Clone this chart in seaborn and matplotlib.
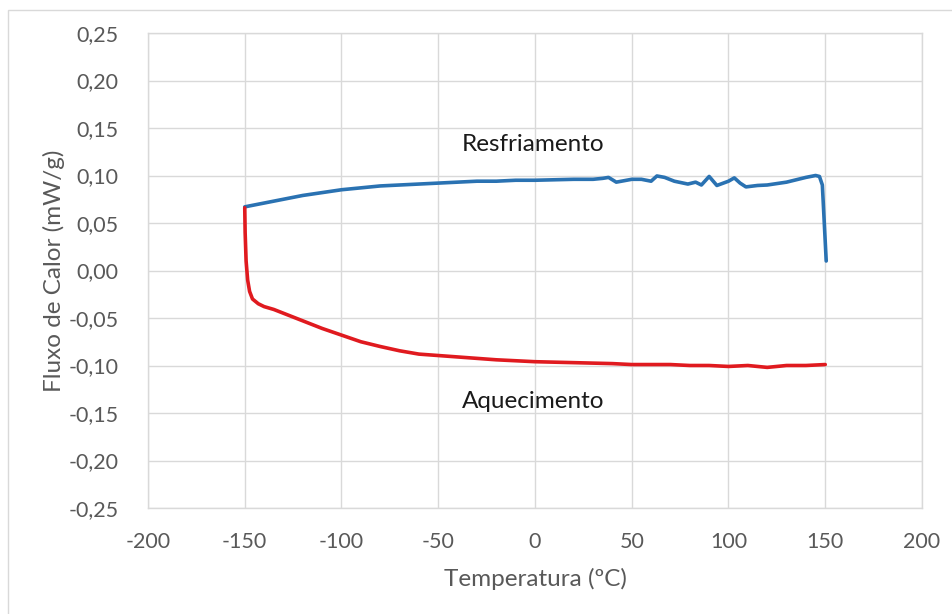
import matplotlib
matplotlib.use("Agg")
import matplotlib.pyplot as plt
import seaborn as sns
import pandas as pd
from matplotlib.ticker import FuncFormatter
from matplotlib.patches import Rectangle

# Cooling curve (Resfriamento)
cool_temp = [-150, -140, -130, -120, -110, -100, -90, -80, -70, -60, -50, -40, -30,
             -20, -10, 0, 10, 20, 30, 35, 38, 42, 50, 55, 60, 63, 67, 72, 79, 83,
             86, 90, 94, 100, 103, 106, 109, 115, 120, 130, 140, 145, 147, 148.5,
             149.5, 150.5]
cool_flux = [0.067, 0.071, 0.075, 0.079, 0.082, 0.085, 0.087, 0.089, 0.090, 0.091,
             0.092, 0.093, 0.094, 0.094, 0.095, 0.095, 0.0955, 0.096, 0.096, 0.097,
             0.098, 0.093, 0.096, 0.096, 0.094, 0.0995, 0.098, 0.094, 0.091, 0.093,
             0.090, 0.099, 0.0895, 0.094, 0.0975, 0.092, 0.088, 0.0895, 0.090,
             0.093, 0.098, 0.100, 0.099, 0.090, 0.050, 0.010]

# Heating curve (Aquecimento)
heat_temp = [-150, -149.8, -149.3, -148.5, -147.5, -146, -143, -140, -135, -130,
             -120, -110, -100, -90, -80, -70, -60, -50, -40, -30, -20, -10, 0, 10,
             20, 30, 40, 50, 60, 70, 80, 90, 100, 110, 120, 130, 140, 150]
heat_flux = [0.066, 0.040, 0.010, -0.010, -0.022, -0.030, -0.035, -0.038, -0.041,
             -0.045, -0.053, -0.061, -0.068, -0.075, -0.080, -0.0845, -0.088,
             -0.0895, -0.091, -0.0925, -0.094, -0.095, -0.096, -0.0965, -0.097,
             -0.0975, -0.098, -0.099, -0.099, -0.099, -0.100, -0.100, -0.101,
             -0.100, -0.102, -0.100, -0.100, -0.099]

x_ticks = [-200, -150, -100, -50, 0, 50, 100, 150, 200]
y_ticks = [-0.25, -0.20, -0.15, -0.10, -0.05, 0.00, 0.05, 0.10, 0.15, 0.20, 0.25]

sns.set_style("white")
plt.rcParams['font.family'] = ['Lato', 'DejaVu Sans']

fig = plt.figure(figsize=(9.53, 6.14), dpi=100)
ax = fig.add_axes([148/953, 1-508/614, (922-148)/953, (508-33)/614])

cool = pd.DataFrame({"T": cool_temp, "F": cool_flux})
heat = pd.DataFrame({"T": heat_temp, "F": heat_flux})
sns.lineplot(data=cool, x="T", y="F", ax=ax, sort=False, estimator=None,
             color="#2a72b2", linewidth=2.6)
sns.lineplot(data=heat, x="T", y="F", ax=ax, sort=False, estimator=None,
             color="#e01a1f", linewidth=2.6)

ax.set_xlim(-200, 200)
ax.set_ylim(-0.25, 0.25)
ax.set_xticks(x_ticks)
ax.set_yticks(y_ticks)
ax.yaxis.set_major_formatter(FuncFormatter(lambda v, p: f"{v:.2f}".replace(".", ",").replace("-0,00", "0,00")))
ax.xaxis.set_major_formatter(FuncFormatter(lambda v, p: f"{int(round(v))}"))
ax.grid(True, color="#d9d9d9", linewidth=1)
ax.set_axisbelow(True)
for s in ax.spines.values():
    s.set_color("#d9d9d9")
    s.set_linewidth(1)
ax.tick_params(axis="y", length=0, labelsize=15.5, labelcolor="#595959", pad=21)
ax.tick_params(axis="x", length=0, labelsize=15.5, labelcolor="#595959", pad=17)

ax.set_xlabel("Temperatura (ºC)", fontsize=17.5, color="#595959", labelpad=12)
ax.set_ylabel("Fluxo de Calor (mW/g)", fontsize=17.5, color="#595959", labelpad=3)

ax.text(-1, 0.133, "Resfriamento", ha="center", va="center", fontsize=17.5, color="#1a1a1a")
ax.text(-1, -0.138, "Aquecimento", ha="center", va="center", fontsize=17.5, color="#1a1a1a")

fig.patches.append(Rectangle((8/953, -0.1), 1.2, 1 - 10/614 + 0.1, transform=fig.transFigure,
                             fill=False, edgecolor="#d9d9d9", linewidth=1))

fig.savefig("out.png", dpi=100)
